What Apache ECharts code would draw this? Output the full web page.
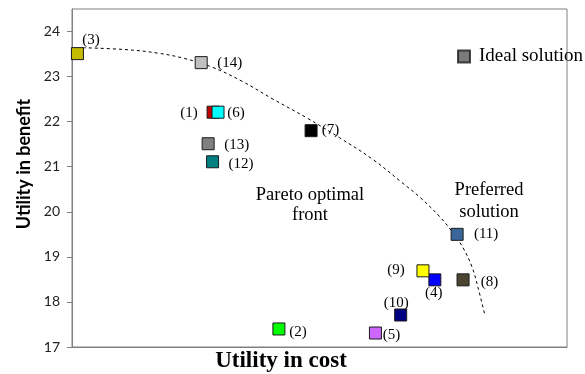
<!DOCTYPE html>
<html>
<head>
<meta charset="utf-8">
<script src="https://cdn.jsdelivr.net/npm/echarts@6/dist/echarts.min.js"></script>
<style>
html,body{margin:0;padding:0;background:#fff;}
#chart{width:585px;height:374px;}
</style>
</head>
<body>
<div id="chart"></div>
<script>
// ---- data ----
var solutionNames = ['(1)','(2)','(3)','(4)','(5)','(6)','(7)','(8)','(9)','(10)','(11)','(12)','(13)','(14)'];
var costUtility    = [28.5, 41.8, 1.1, 73.3, 61.3, 29.5, 48.3, 79.0, 70.9, 66.4, 77.8, 28.4, 27.5, 26.1];
var benefitUtility = [22.21, 17.40, 23.51, 18.49, 17.31, 22.21, 21.80, 18.49, 18.69, 17.71, 19.50, 21.11, 21.51, 23.31];
var frontCost    = [2.2, 10.7, 17.4, 22.8, 28.3, 34.3, 40.6, 47.5, 54.1, 60.8, 66.3, 70.3, 74.3, 77.0, 79.0, 80.8, 82.0, 83.4];
var frontBenefit = [23.64, 23.60, 23.52, 23.40, 23.21, 22.90, 22.50, 22.08, 21.64, 21.16, 20.68, 20.32, 19.89, 19.53, 19.20, 18.78, 18.33, 17.71];
var yTickValues = [17, 18, 19, 20, 21, 22, 23, 24];

// ---- styles ----
var pointColors = ['#c00000','#00ff00','#c4bc00','#0000ff','#cc66ff','#00ffff','#000000','#4a4430','#ffff00','#000080','#3a6699','#008080','#808080','#c0c0c0'];
var labelOffsets = [[-24,1],[19,3],[13.5,-14],[-1,13],[16,2],[18,1],[19.5,-1],[26.5,2],[-27,-1],[-4.5,-12],[29,0],[28.5,2],[28.5,1],[28.5,0]];
var serif = '"Liberation Serif","Times New Roman",serif';

var pts = solutionNames.map(function(n, i){
  return {
    name: n,
    value: [costUtility[i], benefitUtility[i]],
    itemStyle: {color: pointColors[i]},
    label: {offset: labelOffsets[i]}
  };
});
var front = frontCost.map(function(c, i){ return [c, frontBenefit[i]]; });

var chart = echarts.init(document.getElementById('chart'), null, {renderer:'canvas'});
chart.setOption({
  animation: false,
  grid: {left: 72, right: 18, top: 9, bottom: 27, show: true, borderColor: '#808080', borderWidth: 1, backgroundColor: 'transparent'},
  xAxis: {
    type: 'value', min: 0, max: 100,
    axisLine: {show: true, lineStyle: {color: '#808080'}},
    axisTick: {show: false}, axisLabel: {show: false}, splitLine: {show: false}
  },
  yAxis: {
    type: 'value', min: 17, max: 24.5,
    axisLine: {show: true, lineStyle: {color: '#808080'}},
    axisTick: {show: true, inside: false, length: 5, lineStyle: {color: '#808080'}, customValues: yTickValues},
    axisLabel: {show: true, margin: 12, color: '#222', fontSize: 14, fontFamily: 'Lato, "Open Sans", sans-serif', customValues: yTickValues},
    splitLine: {show: false}
  },
  legend: {
    data: ['Ideal solution'],
    left: 457, top: 47, padding: 0,
    icon: 'rect', itemWidth: 12, itemHeight: 12,
    textStyle: {fontFamily: serif, fontSize: 19, color: '#000', padding: [0,0,0,4]}
  },
  series: [
    {
      type: 'line', data: front, smooth: 0.4, symbol: 'none', silent: true,
      lineStyle: {color: '#000', width: 1, type: [3, 3]}, z: 1
    },
    {
      type: 'scatter', name: 'Solutions', data: pts, symbol: 'rect', symbolSize: 12,
      itemStyle: {borderColor: '#1a1a1a', borderWidth: 1, opacity: 1},
      label: {show: true, position: 'inside', formatter: '{b}', fontFamily: serif, fontSize: 15, color: '#000', align: 'center', verticalAlign: 'middle'},
      z: 3
    },
    {
      type: 'scatter', name: 'Ideal solution', data: [], symbol: 'rect',
      itemStyle: {color: '#595959', borderColor: '#1a1a1a', borderWidth: 1}
    }
  ],
  graphic: [
    {type: 'text', style: {text: 'Pareto optimal\nfront', fontFamily: serif, fontSize: 18.5, fill: '#000', align: 'center', lineHeight: 20}, x: 310, y: 185},
    {type: 'text', style: {text: 'Preferred\nsolution', fontFamily: serif, fontSize: 18.5, fill: '#000', align: 'center', lineHeight: 22}, x: 489, y: 179},
    {type: 'text', style: {text: 'Utility in cost', fontFamily: serif, fontSize: 23, fontWeight: 'bold', fill: '#000', align: 'center', verticalAlign: 'middle'}, x: 281, y: 361},
    {type: 'text', rotation: Math.PI/2, style: {text: 'Utility in benefit', fontFamily: 'Lato, "Open Sans", sans-serif', fontSize: 18, fontWeight: 'bold', fill: '#000', align: 'center', verticalAlign: 'middle'}, x: 24, y: 164}
  ]
});
</script>
</body>
</html>
